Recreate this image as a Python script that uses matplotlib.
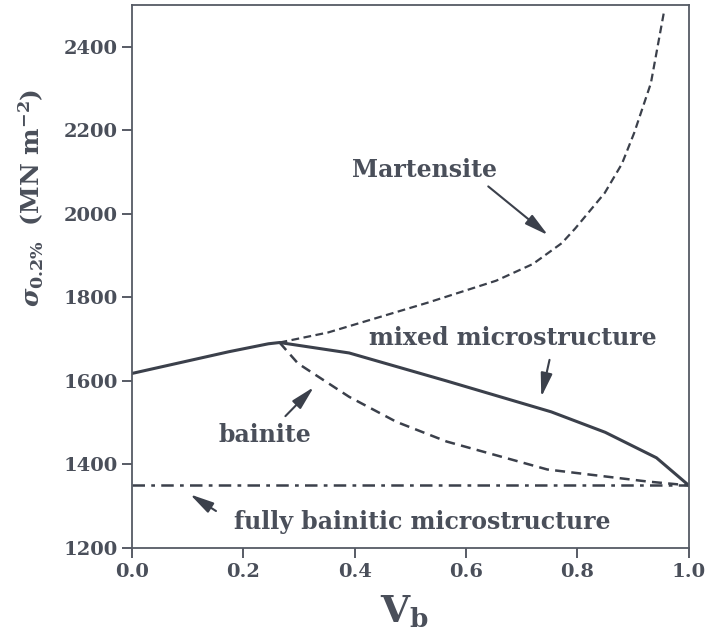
import matplotlib
matplotlib.use("Agg")
import matplotlib.pyplot as plt

# Data
mixed_x = [0.0, 0.174, 0.245, 0.265, 0.39, 0.565, 0.753, 0.85, 0.942, 1.0]
mixed_y = [1618, 1670, 1689, 1692, 1667, 1600, 1526, 1477, 1416, 1350]

bainite_x = [0.265, 0.298, 0.39, 0.475, 0.565, 0.746, 0.927, 1.0]
bainite_y = [1692, 1642, 1562, 1502, 1455, 1388, 1359, 1350]

mart_x = [0.265, 0.352, 0.53, 0.654, 0.72, 0.772, 0.796, 0.849, 0.88, 0.902, 0.932, 0.955]
mart_y = [1692, 1716, 1787, 1840, 1880, 1930, 1965, 2050, 2120, 2194, 2313, 2480]

full_x = [0.0, 1.0]
full_y = [1350, 1350]

xticks = [0.0, 0.2, 0.4, 0.6, 0.8, 1.0]
yticks = [1200, 1400, 1600, 1800, 2000, 2200, 2400]

col = "#3b404b"
tcol = '#4a4f5a'
plt.rcParams['font.family'] = ['DejaVu Serif']
plt.rcParams['font.weight'] = 'bold'
plt.rcParams['mathtext.fontset'] = 'dejavuserif'

fig = plt.figure(figsize=(7.11, 6.35), dpi=100)
ax = fig.add_axes([0.1857, 0.137, 0.783, 0.855])

ax.plot(mixed_x, mixed_y, color=col, lw=2.2, solid_joinstyle='round')
ax.plot(bainite_x, bainite_y, color=col, lw=1.8, ls=(0, (4, 2.5)))
ax.plot(mart_x, mart_y, color=col, lw=1.6, ls=(0, (3.5, 2)))
ax.plot(full_x, full_y, color=col, lw=1.8, ls=(0, (5, 2.5, 1.5, 2.5)))

ax.set_xlim(0, 1.0)
ax.set_ylim(1200, 2500)
ax.set_xticks(xticks)
ax.set_xticklabels([f"{v:.1f}" for v in xticks])
ax.set_yticks(yticks)
ax.set_yticklabels([str(v) for v in yticks])
ax.tick_params(direction='out', length=7, width=1.2, colors=col, labelsize=14)
for lab in ax.get_xticklabels() + ax.get_yticklabels():
    lab.set_fontweight('bold')
    lab.set_color(tcol)
for s in ax.spines.values():
    s.set_color('#555a64')
    s.set_linewidth(1.3)

ax.set_xlabel(r"$\mathbf{V}_{\mathbf{b}}$", fontsize=27, color=tcol)
ax.xaxis.set_label_coords(0.49, -0.085)
ax.set_ylabel(r"$\sigma_{0.2\%}$  $\mathbf{(MN\ m^{-2})}$", fontsize=18, color=tcol)
ax.yaxis.set_label_coords(-0.155, 0.645)

akw = dict(arrowstyle='-|>,head_length=0.9,head_width=0.22', color=col, lw=1.5, mutation_scale=16)
fs = 17
ax.text(0.396, 2105, "Martensite", fontsize=fs, fontweight='bold', color=tcol, va='center')
ax.annotate("", xy=(0.751, 1945), xytext=(0.636, 2070), arrowprops=akw)

ax.text(0.426, 1703, "mixed microstructure", fontsize=fs, fontweight='bold', color=tcol, va='center')
ax.annotate("", xy=(0.734, 1555), xytext=(0.751, 1657), arrowprops=akw)

ax.text(0.156, 1471, "bainite", fontsize=fs, fontweight='bold', color=tcol, va='center')
ax.annotate("", xy=(0.330, 1590), xytext=(0.272, 1511), arrowprops=akw)

ax.text(0.183, 1262, "fully bainitic microstructure", fontsize=fs, fontweight='bold', color=tcol, va='center')
ax.annotate("", xy=(0.10, 1332), xytext=(0.155, 1285), arrowprops=akw)

fig.savefig("out.png", dpi=100)
